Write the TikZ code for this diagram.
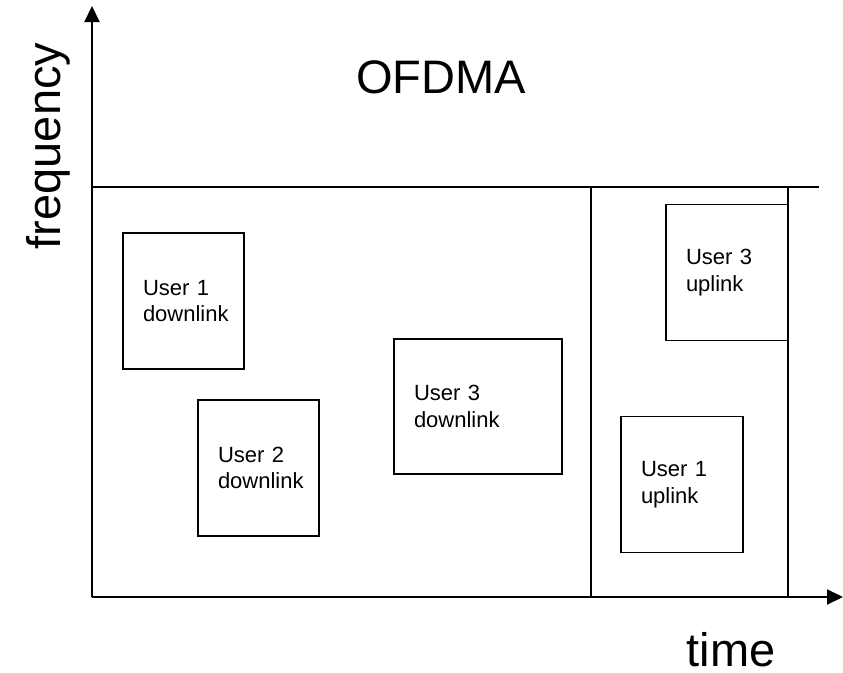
\documentclass[tikz,border=0pt]{standalone}
\usepackage{fontspec}
\setmainfont{Liberation Sans}
\usetikzlibrary{arrows.meta}

\begin{document}
\begin{tikzpicture}[x=1pt, y=-1pt,
  axis/.style={line width=2pt, -{Triangle[length=16pt, width=15pt]}},
  frame/.style={line width=1.8pt},
  slot/.style={draw, line width=1.5pt, rectangle, inner xsep=20pt, inner ysep=0pt,
    align=left, font=\fontsize{22}{26.5}\selectfont},
  biglabel/.style={inner sep=0pt, font=\fontsize{47}{56}\selectfont}]
  \useasboundingbox (0,0) rectangle (843,672);

  % axes
  \coordinate (O) at (92,597);
  \coordinate (ytip) at (92,6);
  \coordinate (xtip) at (843,597);
  \draw[axis] (O) -- (ytip);
  \draw[axis] (O) -- (xtip);

  % frame boundary and downlink/uplink split
  \coordinate (tl) at (92,187);
  \coordinate (tr) at (819,187);
  \coordinate (d1t) at (591,187);
  \coordinate (d1b) at (591,597);
  \coordinate (d2t) at (788,187);
  \coordinate (d2b) at (788,597);
  \draw[frame] (tl) -- (tr);
  \draw[line width=1.2pt] (d1t) -- (d1b);
  \draw[frame] (d2t) -- (d2b);

  % resource allocations
  \node[slot, minimum width=121pt, minimum height=136pt, text width=81pt] (u1d) at (183.5,301) {User 1\\downlink};
  \node[slot, minimum width=121pt, minimum height=136pt, text width=81pt] (u2d) at (258.5,468) {User 2\\downlink};
  \node[slot, minimum width=168pt, minimum height=135pt, text width=128pt] (u3d) at (478,406.5) {User 3\\downlink};
  \node[slot, minimum width=122pt, minimum height=136pt, text width=82pt] (u1u) at (682,484.5) {User 1\\uplink};
  \node[slot, minimum width=122pt, minimum height=136pt, text width=82pt] (u3u) at (727,272.5) {User 3\\uplink};

  % labels
  \node[biglabel, anchor=base] (title) at (441,93) {OFDMA};
  \node[biglabel, anchor=base, rotate=90] (flabel) at (60,146) {frequency};
  \node[biglabel, anchor=base] (tlabel) at (731,666) {time};
\end{tikzpicture}
\end{document}
